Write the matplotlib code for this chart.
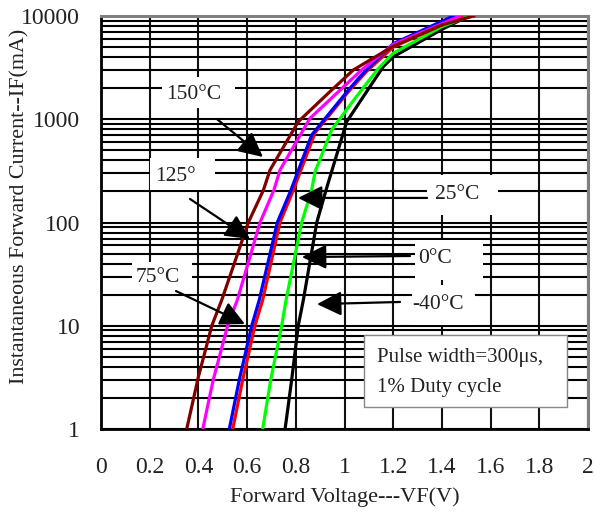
import numpy as np
import matplotlib
matplotlib.use("Agg")
import matplotlib.pyplot as plt
from matplotlib.patches import Rectangle
from matplotlib.ticker import FixedLocator, NullFormatter

plt.rcParams['font.family'] = ['Liberation Serif', 'DejaVu Serif']

# ---- data ----
v150 = [0.352, 0.400, 0.455, 0.496, 0.605, 0.667, 0.694, 0.81, 0.94, 1.036, 1.2, 1.4, 1.53]
i150 = [1, 3.2, 10, 17.8, 100, 206, 322, 947, 1850, 3000, 5100, 8200, 10000]

v125 = [0.418, 0.461, 0.52, 0.56, 0.653, 0.71, 0.735, 0.858, 1.07, 1.2, 1.474]
i125 = [1, 3, 10, 17.8, 100, 206, 322, 1020, 3000, 5300, 10000]

v75 = [0.527, 0.568, 0.619, 0.65, 0.724, 0.78, 0.865, 1.016, 1.077, 1.2, 1.447]
i75 = [1, 3, 10, 17.8, 100, 206, 704, 1920, 2800, 5400, 10000]

v25 = [0.541, 0.582, 0.632, 0.664, 0.735, 0.79, 0.879, 1.02, 1.09, 1.2, 1.48]
i25 = [1, 3, 10, 17.8, 100, 206, 740, 1900, 2900, 5000, 10000]

v0 = [0.664, 0.697, 0.742, 0.76, 0.824, 0.865, 0.879, 0.947, 1.043, 1.139, 1.2, 1.4, 1.515]
i0 = [1, 3, 10, 17.8, 100, 206, 310, 787, 1590, 3110, 4360, 7900, 10000]

vm40 = [0.756, 0.783, 0.81, 0.831, 0.886, 0.924, 1.009, 1.084, 1.159, 1.2, 1.4, 1.51]
im40 = [1, 3, 10, 17.8, 100, 206, 947, 1750, 3230, 4030, 7430, 10000]

x_ticks = [0, 0.2, 0.4, 0.6, 0.8, 1.0, 1.2, 1.4, 1.6, 1.8, 2.0]
x_tick_labels = ["0", "0.2", "0.4", "0.6", "0.8", "1", "1.2", "1.4", "1.6", "1.8", "2"]
y_ticks = [1, 10, 100, 1000, 10000]
y_tick_labels = ["1", "10", "100", "1000", "10000"]

series = [
    (vm40, im40, "#000000"),
    (v0, i0, "#00FF00"),
    (v25, i25, "#FF0000"),
    (v75, i75, "#0000FF"),
    (v125, i125, "#FF00FF"),
    (v150, i150, "#800000"),
]

# ---- figure ----
fig = plt.figure(figsize=(5.94, 5.13), dpi=100)
ax = fig.add_axes([0.170, 0.1637, 0.820, 0.8051])
ax.set_yscale('log')
ax.set_xlim(0, 2)
ax.set_ylim(1, 10000)

ax.set_xticks(x_ticks)
ax.set_xticklabels(x_tick_labels)
ax.set_yticks(y_ticks)
ax.set_yticklabels(y_tick_labels)
minors = [m * 10 ** d for d in range(4) for m in range(2, 10)]
ax.yaxis.set_minor_locator(FixedLocator(minors))
ax.yaxis.set_minor_formatter(NullFormatter())
ax.tick_params(axis='both', which='both', length=0, labelsize=17, labelcolor='#222222')
ax.tick_params(axis='y', pad=15)
ax.tick_params(axis='x', pad=20)

ax.grid(True, which='both', axis='y', color='black', lw=1.5, zorder=0.5)
ax.grid(True, which='major', axis='x', color='#111111', lw=1.5, zorder=0.5)
ax.set_axisbelow(True)

for s in ['left', 'bottom']:
    ax.spines[s].set_color('black')
    ax.spines[s].set_linewidth(2)
for s in ['top', 'right']:
    ax.spines[s].set_color('#808080')
    ax.spines[s].set_linewidth(2.2)

for v, i, c in series:
    ax.plot(v, i, color=c, lw=2.3, zorder=3, solid_joinstyle='miter', clip_on=True)

# white label boxes (x0, x1, y0, y1)
boxes = [
    (0.2505, 0.5503, 1285, 2566),
    (0.2012, 0.4682, 206, 421),
    (0.1273, 0.3737, 22.2, 41.4),
    (1.339, 1.630, 118, 288),
    (1.290, 1.569, 27.7, 67.7),
    (1.277, 1.536, 10.2, 24.8),
]
for x0, x1, y0, y1 in boxes:
    ax.add_patch(Rectangle((x0, y0), x1 - x0, y1 - y0, facecolor='white',
                           edgecolor='none', zorder=2))
ax.add_patch(Rectangle((1.080, 1.63), 1.914 - 1.080, 8.14 - 1.63, facecolor='white',
                       edgecolor='#888888', lw=1.0, zorder=2))

labels = [
    ("150°C", 0.380, 1755),
    ("125°", 0.304, 282),
    ("75°C", 0.234, 29.6),
    ("25°C", 1.462, 185),
    ("0°C", 1.372, 45.3),
    ("-40°C", 1.384, 15.9),
]
for t, x, y in labels:
    ax.text(x, y, t, fontsize=15.5, ha='center', va='center', zorder=4, color='#222222')

ax.text(1.133, 4.98, "Pulse width=300μs,", fontsize=15, ha='left', va='center', zorder=4, color='#222222')
ax.text(1.133, 2.55, "1% Duty cycle", fontsize=15, ha='left', va='center', zorder=4, color='#222222')

arrows = [
    ((0.476, 1005), (0.665, 431)),
    ((0.3655, 169), (0.612, 69.2)),
    ((0.308, 21.7), (0.591, 10.4)),
    ((1.339, 173), (0.809, 173)),
    ((1.269, 47.4), (0.825, 46.3)),
    ((1.228, 17.0), (0.887, 16.2)),
]
for start, tip in arrows:
    ax.annotate("", xy=tip, xytext=start, zorder=5,
                arrowprops=dict(arrowstyle='-|>,head_length=0.6,head_width=0.3',
                                mutation_scale=25, color='black', lw=1.6,
                                shrinkA=0, shrinkB=0))

ax.set_xlabel("Forward Voltage---VF(V)", fontsize=16, color='#222222')
ax.set_ylabel("Instantaneous Forward Current--IF(mA)", fontsize=15.8, color='#222222')
ax.xaxis.set_label_coords(0.5, -0.142)
ax.yaxis.set_label_coords(-0.146, 0.540)

fig.savefig("out.png", dpi=100)
